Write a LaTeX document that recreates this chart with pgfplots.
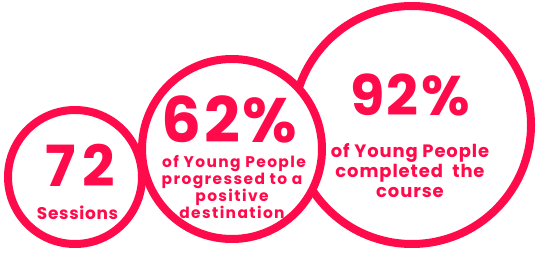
\documentclass[border=0pt]{standalone}
\usepackage{fontspec}
\setmainfont{Poppins}
\newfontfamily\popA{Poppins}[LetterSpace=4]
\newfontfamily\popD{Poppins}[LetterSpace=12]
\newfontfamily\popB{Poppins}[LetterSpace=9]
\newfontfamily\popC{Poppins}[LetterSpace=5]
\usepackage{pgfplots}
\pgfplotsset{compat=1.18}
\definecolor{cr}{HTML}{FF0A4B}
\pgfplotsset{frame/.style={scale only axis, width=541bp, height=259bp,
  xmin=0, xmax=541, ymin=0, ymax=259, y dir=reverse,
  hide axis, clip=false, anchor=south west, at={(0,0)}}}
\begin{document}
\begin{tikzpicture}
\useasboundingbox (0,0) rectangle (541bp,259bp);
\begin{axis}[frame]
% circles: (centre x, centre y), radius as mark size
\addplot[only marks, mark=*, mark size=119bp,
  mark options={draw=cr, fill=white, line width=8bp}] coordinates {(412,125)};
\addplot[only marks, mark=*, mark size=67bp,
  mark options={draw=cr, fill=white, line width=8bp}] coordinates {(75,177)};
\addplot[only marks, mark=*, mark size=90bp,
  mark options={draw=cr, fill=white, line width=8bp}] coordinates {(232,149)};
\end{axis}
\begin{axis}[frame]
\node[anchor=base, text=cr, inner sep=0pt, font=\popD\bfseries\fontsize{57}{57}\selectfont] at (axis cs:80,186) {72};
\node[anchor=base, text=cr, inner sep=0pt, font=\popA\bfseries\fontsize{17}{17}\selectfont] at (axis cs:77.5,219) {Sessions};
\node[anchor=base, text=cr, inner sep=0pt, font=\popA\bfseries\fontsize{63}{63}\selectfont] at (axis cs:229.5,142.5) {62\%};
\node[anchor=base, text=cr, inner sep=0pt, font=\popB\bfseries\fontsize{15.5}{15.5}\selectfont] at (axis cs:234,167) {of Young People};
\node[anchor=base, text=cr, inner sep=0pt, font=\popB\bfseries\fontsize{15.5}{15.5}\selectfont] at (axis cs:232,184) {progressed to a};
\node[anchor=base, text=cr, inner sep=0pt, font=\popB\bfseries\fontsize{15.5}{15.5}\selectfont] at (axis cs:232,201) {positive};
\node[anchor=base, text=cr, inner sep=0pt, font=\popB\bfseries\fontsize{15.5}{15.5}\selectfont] at (axis cs:232,218) {destination};
\node[anchor=base, text=cr, inner sep=0pt, font=\popA\bfseries\fontsize{56}{56}\selectfont] at (axis cs:410,115) {92\%};
\node[anchor=base, text=cr, inner sep=0pt, font=\popC\bfseries\fontsize{18}{18}\selectfont] at (axis cs:410,157) {of Young People};
\node[anchor=base, text=cr, inner sep=0pt, font=\popC\bfseries\fontsize{18}{18}\selectfont] at (axis cs:410,177) {completed\ \ the};
\node[anchor=base, text=cr, inner sep=0pt, font=\popC\bfseries\fontsize{18}{18}\selectfont] at (axis cs:410,197) {course};
\end{axis}
\end{tikzpicture}
\end{document}
